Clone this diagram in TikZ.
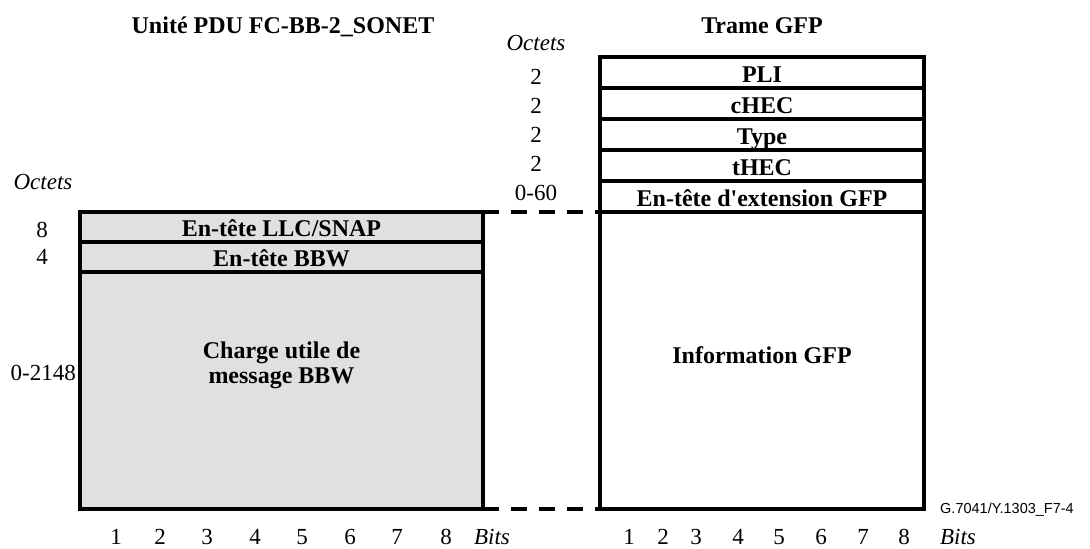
\documentclass[tikz,border=0pt]{standalone}
\usepackage{fontspec}
\setmainfont{Liberation Serif}[Ligatures=TeXOff]
\setsansfont{Liberation Sans}
\usetikzlibrary{positioning}
\definecolor{pdugray}{HTML}{E0E0E0}

\begin{document}
\begin{tikzpicture}[x=1pt,y=-1pt,node distance=0pt,
 field/.style={draw,line width=3.6pt,inner sep=0pt,outer sep=0pt,
 font=\fontsize{24}{25}\selectfont\bfseries,text height=19.5pt,text depth=0pt},
 gfp/.style={field,minimum width=324pt,minimum height=31pt},
 pdu/.style={field,fill=pdugray,minimum width=403pt,minimum height=30pt},
 body/.style={font=\fontsize{24}{25}\selectfont\bfseries,align=center},
 num/.style={font=\fontsize{23}{25}\selectfont,inner sep=0pt},
 unit/.style={num,font=\fontsize{23}{25}\selectfont\itshape},
 title/.style={font=\fontsize{24}{26}\selectfont\bfseries,inner sep=0pt,anchor=base},
 link/.style={line width=3.6pt,dash pattern=on 16pt off 12pt}]
\useasboundingbox (0,0) rectangle (1090,549);
% titles
\node[title] (pdutitle) at (283,33) {Unité PDU FC-BB-2\_SONET};
\node[title] (gfptitle) at (762,33) {Trame GFP};
% GFP frame
\node[gfp,anchor=north west] (pli) at (600,57) {PLI};
\node[gfp,below=of pli] (chec) {cHEC};
\node[gfp,below=of chec] (type) {Type};
\node[gfp,below=of type] (thec) {tHEC};
\node[gfp,below=of thec] (ext) {En-tête d'extension GFP};
\node[gfp,below=of ext,minimum height=297pt] (info) {};
\node[body] (infotxt) at ([yshift=5.5pt]info.center) {Information GFP};
% PDU
\node[pdu,anchor=north west] (llc) at (80,212) {En-tête LLC/SNAP};
\node[pdu,below=of llc] (bbw) {En-tête BBW};
\node[pdu,below=of bbw,minimum height=237pt] (payload) {};
\node[body] (payloadtxt) at ([yshift=25pt]payload.center) {Charge utile de\\message BBW};
% dashed links
\draw[link] (llc.north east) -- (info.north west);
\draw[link] (payload.south east) -- (info.south west);
% octet counts
\node[unit] (gfpoct) at (536,43) {Octets};
\foreach \n/\y [count=\i] in {2/77,2/106,2/135,2/164,0-60/193}
 \node[num] (gfpn\i) at (536,\y) {\n};
\node[unit] (pduoct) at (43,182) {Octets};
\node[num] (pdun1) at (42,230) {8};
\node[num] (pdun2) at (42,257) {4};
\node[num,anchor=east] (pdun3) at (76,373) {0-2148};
% bits
\foreach \x [count=\i] in {116,160,207,255,302,350,397,446}
 \node[num] (pdub\i) at (\x,537) {\i};
\node[unit] (pdubits) at (492,537) {Bits};
\foreach \x [count=\i] in {629,663,696,738,779,821,863,904}
 \node[num] (gfpb\i) at (\x,537) {\i};
\node[unit] (gfpbits) at (958,537) {Bits};
\node[font=\sffamily\fontsize{14.5}{16}\selectfont,anchor=west,inner sep=0pt] (figid) at (940,510) {G.7041/Y.1303\_F7-4};
\end{tikzpicture}
\end{document}
